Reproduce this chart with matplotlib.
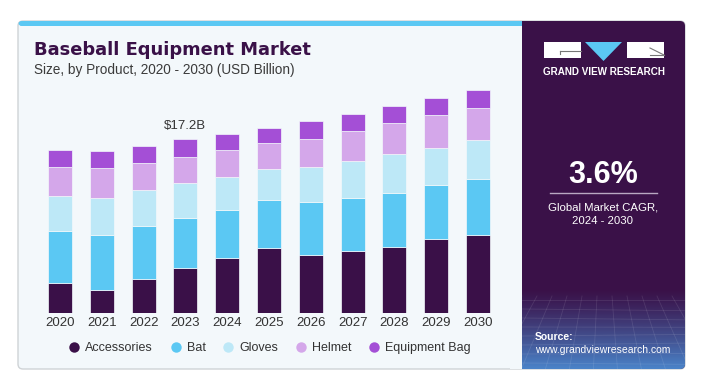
import numpy as np
import matplotlib
matplotlib.use("Agg")
import matplotlib.pyplot as plt
from matplotlib.patches import FancyBboxPatch, Rectangle, Polygon
from matplotlib.lines import Line2D

plt.rcParams["font.family"] = ["Liberation Sans", "DejaVu Sans"]

# 数据（单位：十亿美元）
years = ["2020", "2021", "2022", "2023", "2024", "2025", "2026", "2027", "2028", "2029", "2030"]
accessories = [3.03, 2.30, 3.39, 4.51, 5.44, 6.49, 5.77, 6.13, 6.59, 7.35, 7.77]
bat = [5.11, 5.44, 5.27, 4.95, 4.78, 4.69, 5.21, 5.24, 5.28, 5.31, 5.48]
gloves = [3.49, 3.63, 3.53, 3.40, 3.29, 3.13, 3.46, 3.69, 3.89, 3.72, 3.89]
helmet = [2.80, 3.03, 2.64, 2.63, 2.64, 2.57, 2.80, 2.94, 3.04, 3.20, 3.16]
equipment_bag = [1.71, 1.65, 1.71, 1.72, 1.58, 1.48, 1.78, 1.71, 1.71, 1.68, 1.75]

series_names = ["Accessories", "Bat", "Gloves", "Helmet", "Equipment Bag"]
series_colors = ["#3a1048", "#5bc8f3", "#bde8f7", "#d4a7ea", "#a44fd6"]
highlight_year = "2023"
highlight_label = "$17.2B"

W, H = 702, 378
fig = plt.figure(figsize=(W / 100, H / 100), dpi=100)
fig.patch.set_facecolor("white")

# 背景（像素坐标）
bg = fig.add_axes([0, 0, 1, 1])
bg.set_xlim(0, W)
bg.set_ylim(H, 0)
bg.axis("off")

card = FancyBboxPatch((18, 21), 667, 348, boxstyle="round,pad=0,rounding_size=5",
                      facecolor="#f3f8fb", edgecolor="#cfd3d6", linewidth=1)
bg.add_patch(card)
panel = FancyBboxPatch((512, 21), 173, 348, boxstyle="round,pad=0,rounding_size=5",
                       facecolor="#3a1148", edgecolor="none")
bg.add_patch(panel)
bg.add_patch(Rectangle((510, 26), 12, 342.5, facecolor="#f3f8fb", edgecolor="none"))
# 顶部蓝条
bg.add_patch(FancyBboxPatch((18.5, 21), 20, 5, boxstyle="round,pad=0,rounding_size=3",
                            facecolor="#5bc8f3", edgecolor="none"))
bg.add_patch(Rectangle((25, 21), 497, 5, facecolor="#5bc8f3", edgecolor="none"))

# 右侧面板底部渐变
gh, gw = 80, 10
grad = np.zeros((gh, gw, 4))
grad[..., 0] = 0.30
grad[..., 1] = 0.58
grad[..., 2] = 0.86
grad[..., 3] = np.linspace(0, 0.9, gh)[:, None] ** 1.2
im = bg.imshow(grad, extent=[522, 685, 369, 289], aspect="auto", origin="upper", zorder=2)
im.set_clip_path(panel)
for i in range(8):
    yy = 300 + i * 9
    ln, = bg.plot([522, 685], [yy, yy + 2 * np.sin(i)], color="white", alpha=0.10, lw=0.6, zorder=3)
    ln.set_clip_path(panel)
for i in range(12):
    xx = 522 + i * 15
    ln, = bg.plot([xx, 603 + (xx - 603) * 1.6], [296, 369], color="white", alpha=0.10, lw=0.6, zorder=3)
    ln.set_clip_path(panel)

# logo
bg.add_patch(Rectangle((544, 42), 37, 15.5, facecolor="white", edgecolor="none", zorder=4))
bg.add_patch(Polygon([(585, 42), (622, 42), (603.5, 61)], closed=True, facecolor="#5bc8f3",
                     edgecolor="none", zorder=4))
bg.add_patch(Rectangle((627, 42), 37, 15.5, facecolor="white", edgecolor="none", zorder=4))
bg.plot([560, 581], [51, 51], color="#777777", lw=0.8, zorder=5)
bg.plot([560, 560], [51, 53.5], color="#777777", lw=0.8, zorder=5)
bg.plot([650, 664], [48, 55], color="#777777", lw=0.8, zorder=5)
bg.plot([650, 664], [55, 55], color="#777777", lw=0.8, zorder=5)
bg.text(604, 72, "GRAND VIEW RESEARCH", color="white", fontsize=7.1, fontweight="bold",
        ha="center", va="center", zorder=5)

# 右侧文字
bg.text(603, 175, "3.6%", color="white", fontsize=22, fontweight="bold", ha="center", va="center", zorder=5)
bg.plot([550, 657], [193, 193], color="#b9a8c2", lw=1, zorder=5)
bg.text(603, 207, "Global Market CAGR,", color="white", fontsize=8.2, ha="center", va="center", zorder=5)
bg.text(603, 221, "2024 - 2030", color="white", fontsize=8.2, ha="center", va="center", zorder=5)
bg.text(535, 337, "Source:", color="white", fontsize=7.5, fontweight="bold", ha="left", va="center", zorder=5)
bg.text(535, 350, "www.grandviewresearch.com", color="white", fontsize=7.5, ha="left", va="center", zorder=5)

# 标题
bg.text(34, 55, "Baseball Equipment Market", color="#3a1148", fontsize=12.9, fontweight="bold",
        ha="left", va="baseline", family="DejaVu Sans")
bg.text(34, 74, "Size, by Product, 2020 - 2030 (USD Billion)", color="#3b3b3b", fontsize=9.8,
        ha="left", va="baseline")

# 柱状图
spacing = 41.8
x_left = 60 - 0.6 * spacing
x_right = 478 + 0.6 * spacing
base_px = 313.3
top_px = 80
px_per_b = 10.11
ax = fig.add_axes([x_left / W, 1 - base_px / H, (x_right - x_left) / W, (base_px - top_px) / H])
ax.patch.set_alpha(0)
ax.set_xlim(-0.6, 10.6)
ax.set_ylim(0, (base_px - top_px) / px_per_b)

x = np.arange(len(years))
bottom = np.zeros(len(years))
all_series = [accessories, bat, gloves, helmet, equipment_bag]
for name, vals, color in zip(series_names, all_series, series_colors):
    ax.bar(x, vals, bottom=bottom, width=0.575, color=color, edgecolor="#f3f8fb",
           linewidth=0.5, label=name)
    bottom = bottom + np.array(vals)

hi = years.index(highlight_year)
ax.annotate(highlight_label.replace("$", r"\$"), (x[hi], bottom[hi]), xytext=(0, 5),
            textcoords="offset points", ha="center", va="bottom", fontsize=9.5, color="#333333")

ax.set_xticks(x)
ax.set_xticklabels(years, fontsize=9.5, color="#333333")
ax.tick_params(axis="x", length=0, pad=3)
ax.set_yticks([])
for s in ax.spines.values():
    s.set_visible(False)

handles = [Line2D([0], [0], marker="o", linestyle="none", markersize=7.5,
                  markerfacecolor=c, markeredgecolor="none") for c in series_colors]
fig.legend(handles, series_names, loc="center", bbox_to_anchor=(270 / W, 1 - 348 / H), ncol=5,
           frameon=False, fontsize=9, handlelength=0.8, handletextpad=0.5, columnspacing=1.4,
           labelcolor="#333333")

fig.savefig("out.png", dpi=100, facecolor="white")
